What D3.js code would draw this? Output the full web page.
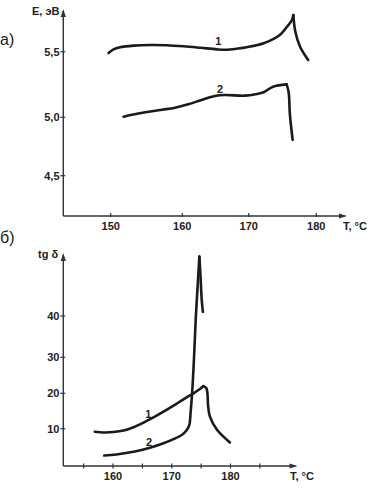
<!DOCTYPE html>
<html><head><meta charset="utf-8">
<script src="https://cdn.jsdelivr.net/npm/d3@7"></script>
<style>
html,body{margin:0;padding:0;background:#fff;}
svg{display:block;font-family:"Liberation Sans",Arial,sans-serif;}
</style></head>
<body>
<svg id="c" width="379" height="494"></svg>
<script>
// ---- data: panel а) activation energy E (эВ) vs T (°C)
const topTicksX = [150, 160, 170, 180];
const topTicksY = [4.5, 5.0, 5.5];
const topTickLabelsY = ["4,5", "5,0", "5,5"];
const topT1 = [149.7,150.4,151.3,153.2,155.5,157.8,160.2,162.7,165.2,166.7,168.2,169.7,172.2,174.6,175.6,176.4,176.6,176.9,177.6,178.8];
const topE1 = [5.49,5.518,5.534,5.546,5.551,5.549,5.541,5.53,5.518,5.515,5.523,5.534,5.564,5.627,5.686,5.742,5.78,5.652,5.538,5.437];
const topT2 = [151.8,153.5,155.3,157.2,159.0,160.9,162.9,164.9,166.4,169.4,171.2,172.2,173.6,175.6,175.9,176.1,176.5];
const topE2 = [5.005,5.025,5.043,5.058,5.073,5.099,5.132,5.162,5.170,5.165,5.178,5.191,5.233,5.251,5.195,5.018,4.806];

// ---- data: panel б) tg δ vs T (°C)
const botTicksX = [155, 160, 165, 170, 175, 180, 185];
const botTickLabelsX = [160, 170, 180];
const botTicksY = [10, 20, 30, 40];
const botT1 = [156.9,158.4,160.1,161.8,163.5,165.2,166.9,168.6,170.3,172.0,173.7,174.8,175.4,175.9,176.2,176.5,177.7,179.9];
const botV1 = [9.2,9.0,9.1,9.5,10.4,11.7,13.2,14.8,16.5,18.3,20.0,21.2,22.0,21.4,16.2,13.4,9.7,6.3];
const botT2 = [158.5,160.6,163.5,166.3,168.6,170.3,171.7,172.5,173.0,173.2,173.5,173.8,174.1,174.4,174.7,174.9,175.1,175.3];
const botV2 = [2.8,3.1,3.8,4.9,6.1,7.2,8.3,9.5,11.1,14.4,20.9,30.2,39.8,47.1,54.4,49.5,43.9,41.0];

const svg = d3.select("#c");
const ink = "#1a1a1a";

// scales (hand-drawn axes: slightly uneven tick spacing)
const xTop = d3.scaleLinear().domain([150,160,170,180]).range([110.7,182.3,248.7,316.3]);
const yTop = d3.scaleLinear().domain([4.5,5,5.5]).range([175.7,117.3,51.7]);
const xBot = d3.scaleLinear().domain([160,180]).range([113,230.5]);
const yBot = d3.scaleLinear().domain([0,10,20,30,40]).range([466,428.7,393.3,357.3,316]);

function arrowAxes(ox, oy, xEnd, yEnd){
  const g = svg.append("g").attr("stroke", "#333").attr("stroke-width", 1.4).attr("fill","none");
  g.append("line").attr("x1", ox).attr("y1", oy).attr("x2", xEnd).attr("y2", oy);
  g.append("line").attr("x1", ox).attr("y1", oy).attr("x2", ox).attr("y2", yEnd);
  svg.append("path").attr("fill","#333")
    .attr("d", `M${xEnd+2},${oy} L${xEnd-6},${oy-2.6} L${xEnd-6},${oy+2.6} Z`);
  svg.append("path").attr("fill","#333")
    .attr("d", `M${ox},${yEnd-2} L${ox-2.6},${yEnd+6} L${ox+2.6},${yEnd+6} Z`);
}

function drawCurve(xs, ys, sx, sy){
  const pts = xs.map((t,i)=>[sx(t), sy(ys[i])]);
  const pk = d3.maxIndex(ys);
  const line = d3.line().curve(d3.curveCatmullRom.alpha(0.5));
  const g = svg.append("g").attr("fill","none").attr("stroke", ink)
    .attr("stroke-width", 2.6).attr("stroke-linecap","round").attr("stroke-linejoin","round");
  g.append("path").attr("d", line(pts.slice(0, pk+1)));
  g.append("path").attr("d", line(pts.slice(pk)));
}

// ===== Panel а)
const oxT = 63.3, oyT = 216;
arrowAxes(oxT, oyT, 345, 11);
const gt = svg.append("g").attr("font-size", 11).attr("font-weight","bold").attr("fill","#222");
topTicksX.forEach(t=>{
  svg.append("line").attr("x1", xTop(t)).attr("x2", xTop(t)).attr("y1", oyT-3).attr("y2", oyT+1)
    .attr("stroke","#333").attr("stroke-width",1.2);
  gt.append("text").attr("x", xTop(t)).attr("y", 229.5).attr("text-anchor","middle").text(t);
});
topTicksY.forEach((v,i)=>{
  svg.append("line").attr("x1", oxT-3).attr("x2", oxT+2).attr("y1", yTop(v)).attr("y2", yTop(v))
    .attr("stroke","#333").attr("stroke-width",1.2);
  gt.append("text").attr("x", 59.5).attr("y", yTop(v)+4).attr("text-anchor","end").text(topTickLabelsY[i]);
});
gt.append("text").attr("x", 32).attr("y", 14.5).text("E, эВ");
gt.append("text").attr("x", 343).attr("y", 229.5).text("T, °C");
drawCurve(topT1, topE1, xTop, yTop);
drawCurve(topT2, topE2, xTop, yTop);
gt.append("text").attr("x", 218.3).attr("y", 44.5).attr("text-anchor","middle").text("1");
gt.append("text").attr("x", 220).attr("y", 93).attr("text-anchor","middle").text("2");

// ===== Panel б)
const oxB = 63.3, oyB = 466;
arrowAxes(oxB, oyB, 295.5, 255);
const gb = svg.append("g").attr("font-size", 11).attr("font-weight","bold").attr("fill","#222");
botTicksX.forEach(t=>{
  svg.append("line").attr("x1", xBot(t)).attr("x2", xBot(t)).attr("y1", oyB-2.5).attr("y2", oyB+2.5)
    .attr("stroke","#333").attr("stroke-width",1.2);
});
botTickLabelsX.forEach(t=>{
  gb.append("text").attr("x", xBot(t)).attr("y", 479.5).attr("text-anchor","middle").text(t);
});
botTicksY.forEach(v=>{
  svg.append("line").attr("x1", oxB-3).attr("x2", oxB+2).attr("y1", yBot(v)).attr("y2", yBot(v))
    .attr("stroke","#333").attr("stroke-width",1.2);
  gb.append("text").attr("x", 59.5).attr("y", yBot(v)+4).attr("text-anchor","end").text(v);
});
gb.append("text").attr("x", 38).attr("y", 258).text("tg δ");
gb.append("text").attr("x", 290).attr("y", 479.5).text("T, °C");
drawCurve(botT1, botV1, xBot, yBot);
drawCurve(botT2, botV2, xBot, yBot);
gb.append("text").attr("x", 148.3).attr("y", 417.5).attr("text-anchor","middle").text("1");
gb.append("text").attr("x", 149).attr("y", 446).attr("text-anchor","middle").text("2");

// panel letters
svg.append("text").attr("x", 0).attr("y", 45).attr("font-size", 16).attr("fill","#222").text("а)");
svg.append("text").attr("x", 0).attr("y", 243).attr("font-size", 16).attr("fill","#222").text("б)");
</script>
</body></html>
